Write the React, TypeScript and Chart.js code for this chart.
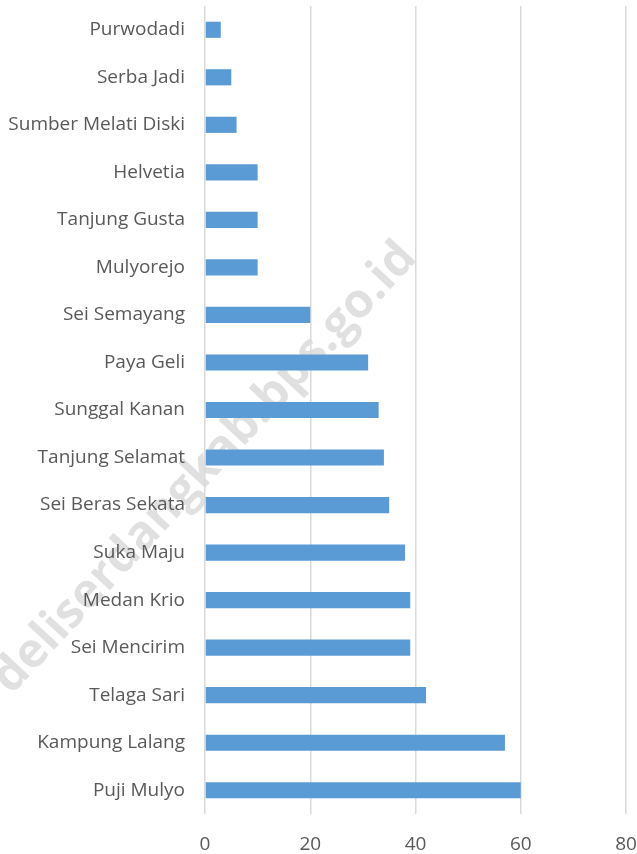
import React, { useEffect, useRef } from "react";
import { Chart, registerables } from "chart.js";

Chart.register(...registerables);

const categories: string[] = [
  "Purwodadi",
  "Serba Jadi",
  "Sumber Melati Diski",
  "Helvetia",
  "Tanjung Gusta",
  "Mulyorejo",
  "Sei Semayang",
  "Paya Geli",
  "Sunggal Kanan",
  "Tanjung Selamat",
  "Sei Beras Sekata",
  "Suka Maju",
  "Medan Krio",
  "Sei Mencirim",
  "Telaga Sari",
  "Kampung Lalang",
  "Puji Mulyo",
];

const values: number[] = [3, 5, 6, 10, 10, 10, 20, 31, 33, 34, 35, 38, 39, 39, 42, 57, 60];

const xTicks: number[] = [0, 20, 40, 60, 80];

const watermarkText = "deliserdangkab.bps.go.id";

const FONT = "'Open Sans', 'Liberation Sans', sans-serif";
const TEXT_COLOR = "#595959";

const watermarkPlugin = {
  id: "watermark",
  beforeDraw(chart: any) {
    const ctx = chart.ctx as CanvasRenderingContext2D;
    ctx.save();
    ctx.translate(205, 468);
    ctx.rotate((-47 * Math.PI) / 180);
    ctx.font = `bold 48px ${FONT}`;
    ctx.fillStyle = "rgba(0,0,0,0.12)";
    ctx.textAlign = "center";
    ctx.textBaseline = "middle";
    ctx.fillText(watermarkText, 0, 0);
    ctx.restore();
  },
};

export default function App() {
  const ref = useRef<HTMLCanvasElement | null>(null);

  useEffect(() => {
    if (!ref.current) return;
    const chart = new Chart(ref.current, {
      type: "bar",
      data: {
        labels: categories,
        datasets: [
          {
            data: values,
            backgroundColor: "#5B9BD5",
            borderWidth: 0,
            categoryPercentage: 1,
            barPercentage: 0.34,
          },
        ],
      },
      options: {
        indexAxis: "y",
        responsive: false,
        animation: false,
        devicePixelRatio: 1,
        layout: { padding: { top: 6, right: 11, left: 0, bottom: 0 } },
        plugins: {
          legend: { display: false },
          tooltip: { enabled: false },
        },
        scales: {
          x: {
            min: xTicks[0],
            max: xTicks[xTicks.length - 1],
            afterBuildTicks: (scale: any) => {
              scale.ticks = xTicks.map((v) => ({ value: v }));
            },
            afterFit: (scale: any) => {
              scale.height = 40;
              scale.paddingLeft = 0;
              scale.paddingRight = 0;
            },
            ticks: {
              color: TEXT_COLOR,
              font: { family: FONT, size: 19 },
              padding: 19,
            },
            grid: { color: "#d9d9d9", lineWidth: 1.5, drawTicks: false },
            border: { display: false },
          },
          y: {
            afterFit: (scale: any) => {
              scale.width = 205;
              scale.paddingTop = 0;
              scale.paddingBottom = 0;
            },
            ticks: {
              color: TEXT_COLOR,
              font: { family: FONT, size: 19 },
              padding: 20,
            },
            grid: { display: false, drawTicks: false },
            border: { display: false },
          },
        },
      },
      plugins: [watermarkPlugin],
    });
    return () => chart.destroy();
  }, []);

  return (
    <div style={{ position: "absolute", left: 0, top: 0, width: 637, height: 854, background: "#fff" }}>
      <canvas ref={ref} width={637} height={854} />
    </div>
  );
}
